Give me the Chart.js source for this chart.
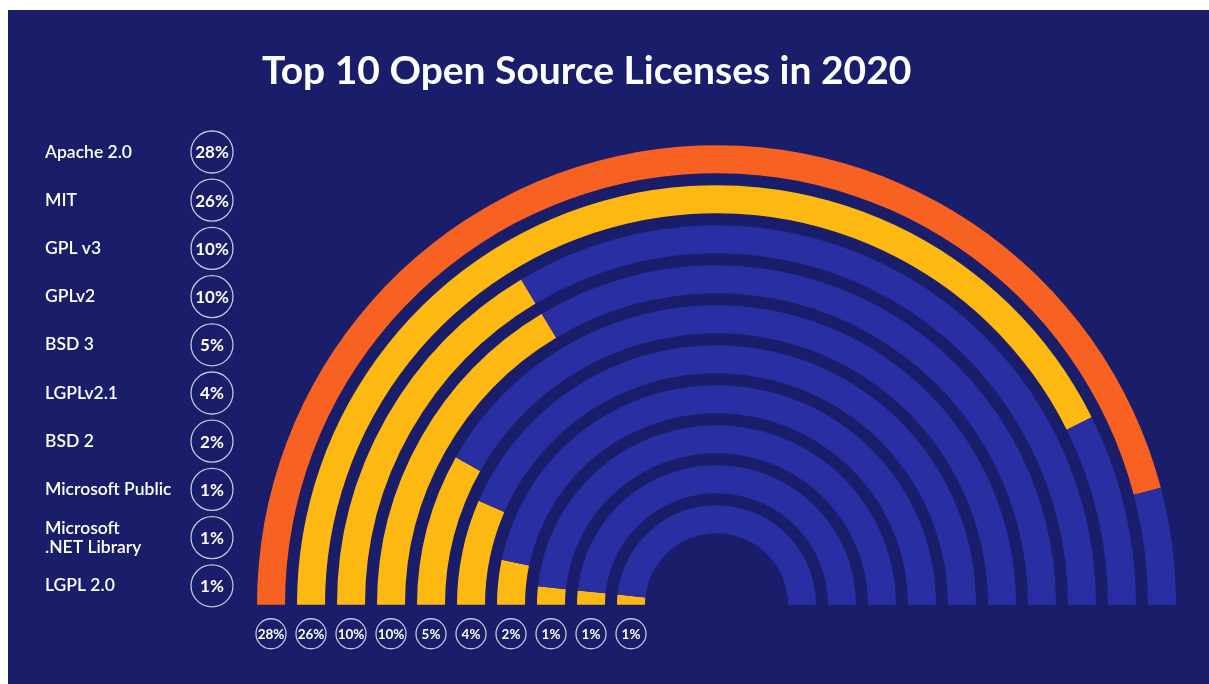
<!doctype html>
<html lang="en">
<head>
    <meta charset="utf-8">
    <title>Top 10 Open Source Licenses in 2020</title>
    <script src="https://cdn.jsdelivr.net/npm/chart.js"></script>
    <style>
        html, body { margin: 0; padding: 0; background: #ffffff; }
        .frame { position: absolute; left: 8px; top: 10px; width: 1201px; height: 674px; background: #1a1d6a; }
        .chart-container { position: absolute; left: 0; top: 0; width: 1209px; height: 684px; }
    </style>
</head>
<body>
<div class="frame"></div>
<div class="chart-container">
    <canvas id="license-chart"></canvas>
</div>
<script>
    // DATA
    const licenses = ['Apache 2.0', 'MIT', 'GPL v3', 'GPLv2', 'BSD 3', 'LGPLv2.1', 'BSD 2', 'Microsoft Public', 'Microsoft\n.NET Library', 'LGPL 2.0']
    const shares = [28, 26, 10, 10, 5, 4, 2, 1, 1, 1]
    const scaleMax = 30.5   // full half circle
    const chartTitle = 'Top 10 Open Source Licenses in 2020'

    // COLORS
    const navy = '#1a1d6a'
    const ringBlue = '#292ea3'
    const orange = '#f76122'
    const yellow = '#fdb912'
    const font = 'Lato, "Noto Sans", sans-serif'

    // one dataset per ring, a transparent spacer dataset between rings
    const datasets = []
    shares.forEach((v, i) => {
        if (i > 0) {
            datasets.push({ data: [1], backgroundColor: ['rgba(0,0,0,0)'], weight: 12, spacer: true })
        }
        datasets.push({
            label: licenses[i],
            data: [v, scaleMax - v],
            backgroundColor: [i === 0 ? orange : yellow, ringBlue],
            weight: 28
        })
    })

    function circleLabel(ctx, x, y, r, text, size) {
        ctx.beginPath()
        ctx.arc(x, y, r, 0, Math.PI * 2)
        ctx.strokeStyle = 'rgba(255,255,255,0.75)'
        ctx.lineWidth = 1.3
        ctx.stroke()
        ctx.fillStyle = '#ffffff'
        ctx.font = 'bold ' + size + 'px ' + font
        ctx.textAlign = 'center'
        ctx.textBaseline = 'middle'
        ctx.fillText(text, x, y + 1)
    }

    const textPlugin = {
        id: 'textPlugin',
        afterDraw(chart) {
            const ctx = chart.ctx
            ctx.save()

            // TITLE
            ctx.fillStyle = '#ffffff'
            ctx.font = 'bold 39px ' + font
            ctx.textAlign = 'left'
            ctx.textBaseline = 'alphabetic'
            ctx.fillText(chartTitle, 262, 84)

            // LEFT LEGEND
            licenses.forEach((name, i) => {
                const cy = 152 + i * 48.2
                const lines = name.split('\n')
                ctx.fillStyle = '#ffffff'
                ctx.font = '600 17.5px ' + font
                ctx.textAlign = 'left'
                ctx.textBaseline = 'middle'
                lines.forEach((line, j) => {
                    ctx.fillText(line, 45, cy + (j - (lines.length - 1) / 2) * 19)
                })
                circleLabel(ctx, 212, cy, 21, shares[i] + '%', 17)
            })

            // BOTTOM LABELS under the left end of each ring
            chart.data.datasets.forEach((ds, idx) => {
                if (ds.spacer) return
                const arc = chart.getDatasetMeta(idx).data[0]
                const mid = (arc.innerRadius + arc.outerRadius) / 2
                circleLabel(ctx, arc.x - mid, arc.y + 29, 15, ds.data[0] + '%', 13.5)
            })

            ctx.restore()
        }
    }

    new Chart(document.getElementById('license-chart').getContext('2d'), {
        type: 'doughnut',
        plugins: [textPlugin],
        data: {
            labels: ['share', 'rest'],
            datasets: datasets
        },
        options: {
            responsive: true,
            maintainAspectRatio: false,
            animation: false,
            rotation: -90,
            circumference: 180,
            cutout: '15.56%',
            borderWidth: 0,
            layout: {
                padding: { left: 257, top: 145, right: 33, bottom: 79 }
            },
            plugins: {
                legend: { display: false },
                tooltip: { enabled: false }
            }
        }
    })
</script>
</body>
</html>
